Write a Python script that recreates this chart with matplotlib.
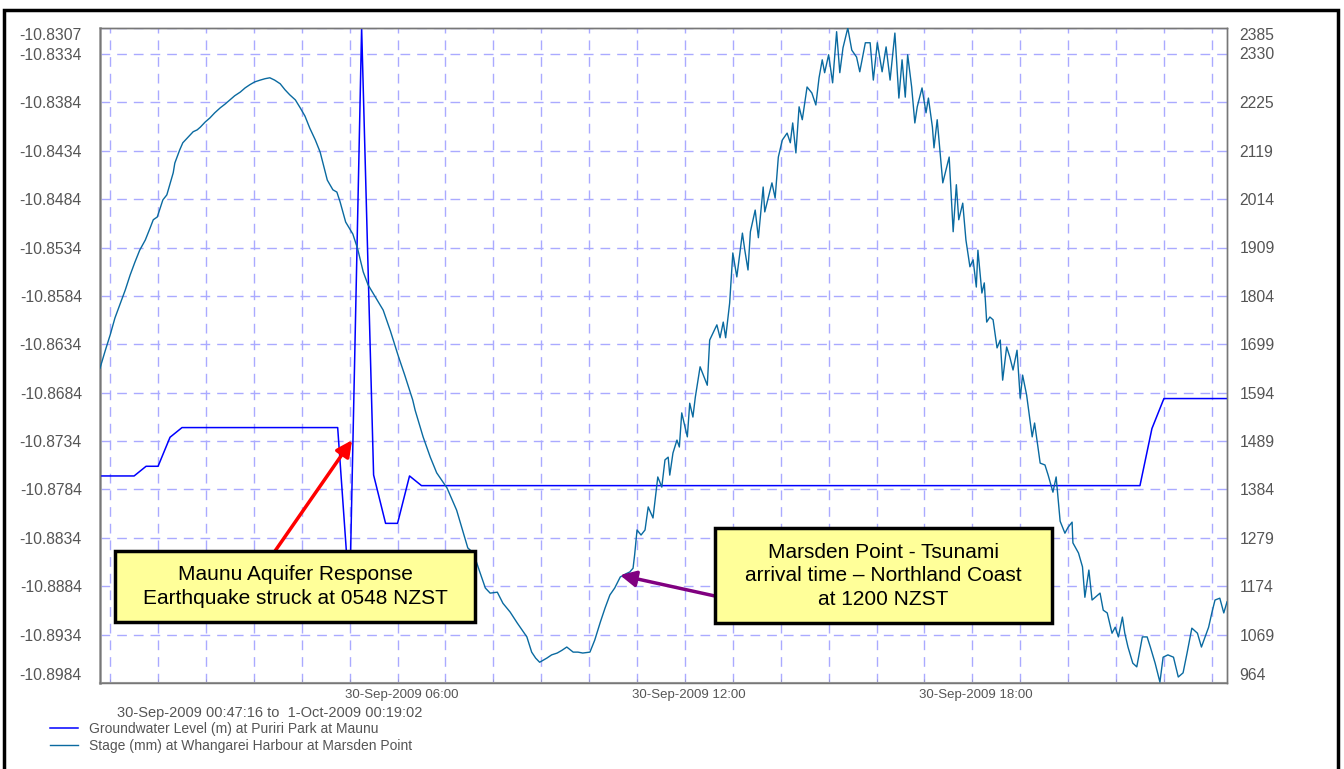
import matplotlib
matplotlib.use('Agg')
import matplotlib.pyplot as plt
import matplotlib.transforms as mtransforms
from matplotlib.patches import Rectangle
from matplotlib.ticker import FixedLocator, MultipleLocator

plt.rcParams['font.family'] = ['Liberation Sans', 'DejaVu Sans']

# tiempos en minutos desde 30-Sep-2009 00:00 (NZST)
gw_min = [47.27, 90, 105, 120, 135, 150, 345, 360, 375, 390, 405, 420, 435, 450,
          1350, 1365, 1380, 1459.03]
gw_level = [-10.8770, -10.8770, -10.8760, -10.8760, -10.8730, -10.8720, -10.8720, -10.8896,
            -10.8307, -10.8769, -10.8819, -10.8819, -10.8770, -10.8780, -10.8780, -10.8721,
            -10.8690, -10.8690]

stage_min = [47.27, 54, 60, 66, 72, 79, 85, 91, 97, 104, 110, 114, 119, 126, 131, 139, 141, 147,
             151, 158, 164, 169, 173, 179, 185, 191, 198, 204, 210, 216, 223, 229, 235, 241, 248,
             254, 260, 266, 273, 279, 285, 292, 298, 304, 310, 317, 323, 332, 339, 344, 348, 355,
             364, 370, 377, 383, 392, 402, 411, 421, 429, 439, 442, 452, 461, 469, 482, 494, 502,
             508, 515, 523, 530, 536, 545, 552, 561, 570, 576, 582, 588, 593, 598, 603, 607, 613,
             620, 626, 632, 640, 646, 652, 661, 667, 674, 680, 686, 692, 699, 705, 711, 715, 717,
             720, 725, 730, 734, 740, 746, 751, 755, 759, 761, 765, 770, 773, 776, 783, 786, 790,
             793, 799, 808, 811, 820, 824, 828, 831, 836, 840, 845, 852, 855, 859, 862, 868, 872,
             878, 880, 889, 893, 897, 902, 908, 912, 915, 919, 923, 927, 933, 939, 944, 948, 952,
             955, 960, 965, 970, 974, 978, 984, 989, 995, 999, 1006, 1012, 1016, 1021, 1027, 1032,
             1037, 1043, 1048, 1052, 1056, 1059, 1064, 1068, 1071, 1077, 1082, 1085, 1090, 1092,
             1096, 1103, 1111, 1116, 1120, 1123, 1128, 1132, 1137, 1141, 1145, 1147, 1152, 1155,
             1158, 1162, 1166, 1171, 1175, 1178, 1183, 1187, 1191, 1196, 1200, 1203, 1208, 1215,
             1218, 1225, 1231, 1235, 1241, 1245, 1250, 1256, 1260, 1265, 1266, 1273, 1278, 1281,
             1286, 1290, 1294, 1300, 1304, 1309, 1315, 1319, 1323, 1328, 1331, 1335, 1341, 1346,
             1353, 1359, 1363, 1369, 1375, 1379, 1385, 1392, 1398, 1404, 1409, 1415, 1422, 1427,
             1436, 1440, 1444, 1450, 1455, 1459.03]
stage_mm = [1647, 1686, 1719, 1756, 1784, 1817, 1849, 1877, 1903, 1925, 1951, 1969, 1975, 2012,
            2023, 2071, 2092, 2120, 2136, 2149, 2160, 2164, 2170, 2181, 2190, 2201, 2212, 2220,
            2229, 2238, 2246, 2255, 2262, 2268, 2272, 2275, 2277, 2272, 2264, 2251, 2240, 2229,
            2212, 2194, 2168, 2142, 2116, 2055, 2034, 2029, 2008, 1964, 1938, 1906, 1856, 1828,
            1802, 1773, 1728, 1673, 1632, 1578, 1556, 1498, 1454, 1420, 1387, 1339, 1292, 1257,
            1246, 1205, 1170, 1159, 1161, 1137, 1118, 1094, 1079, 1064, 1031, 1018, 1009, 1014,
            1018, 1025, 1029, 1035, 1042, 1031, 1031, 1029, 1031, 1057, 1096, 1127, 1155, 1170,
            1194, 1200, 1205, 1213, 1242, 1296, 1285, 1296, 1346, 1322, 1411, 1389, 1448, 1454,
            1415, 1463, 1491, 1476, 1550, 1498, 1571, 1541, 1584, 1650, 1610, 1708, 1741, 1713,
            1747, 1713, 1788, 1897, 1845, 1940, 1903, 1860, 1943, 1990, 1930, 2040, 1986, 2049,
            2016, 2105, 2142, 2157, 2136, 2179, 2114, 2214, 2186, 2257, 2244, 2218, 2277, 2316,
            2288, 2327, 2266, 2377, 2288, 2342, 2385, 2337, 2322, 2290, 2353, 2353, 2272, 2353,
            2290, 2344, 2272, 2374, 2233, 2316, 2235, 2327, 2257, 2179, 2214, 2255, 2201, 2233,
            2170, 2125, 2186, 2049, 2105, 1943, 2045, 1969, 2005, 1925, 1867, 1882, 1823, 1903,
            1810, 1832, 1747, 1758, 1752, 1691, 1708, 1621, 1693, 1671, 1643, 1686, 1582, 1632,
            1589, 1498, 1528, 1441, 1437, 1415, 1378, 1411, 1315, 1289, 1302, 1313, 1268, 1246,
            1216, 1150, 1209, 1144, 1150, 1159, 1122, 1116, 1072, 1085, 1064, 1107, 1072, 1042,
            1007, 999, 1064, 1064, 1042, 1007, 966, 1020, 1025, 1020, 977, 986, 1029, 1083, 1072,
            1042, 1085, 1116, 1144, 1148, 1116, 1140]

gw_ticks = [-10.8984, -10.8934, -10.8884, -10.8834, -10.8784, -10.8734, -10.8684, -10.8634,
            -10.8584, -10.8534, -10.8484, -10.8434, -10.8384, -10.8334, -10.8307]
stage_ticks = [964, 1069, 1174, 1279, 1384, 1489, 1594, 1699, 1804, 1909, 2014, 2119, 2225,
               2330, 2385]
xtick_hours = [6, 12, 18]
xtick_labels = ['30-Sep-2009 06:00', '30-Sep-2009 12:00', '30-Sep-2009 18:00']
periodo = '30-Sep-2009 00:47:16 to  1-Oct-2009 00:19:02'
label_gw = 'Groundwater Level (m) at Puriri Park at Maunu'
label_stage = 'Stage (mm) at Whangarei Harbour at Marsden Point'
texto_sismo = 'Maunu Aquifer Response\nEarthquake struck at 0548 NZST'
texto_tsunami = 'Marsden Point - Tsunami\narrival time \u2013 Northland Coast\nat 1200 NZST'

gris = '#555555'
W, H = 1344, 769

fig = plt.figure(figsize=(W / 100, H / 100), dpi=100)
ax = fig.add_axes([100 / W, 86 / H, 1127 / W, 655 / H])
ax2 = ax.twinx()

# series
l_gw, = ax.plot([m / 60 for m in gw_min], gw_level, color='#0000ff', lw=1.1, zorder=3)
l_st, = ax2.plot([m / 60 for m in stage_min], stage_mm, color='#0a6aa0', lw=1.0, zorder=3)

ax.set_xlim(gw_min[0] / 60, gw_min[-1] / 60)
ax.set_ylim(gw_ticks[0], gw_ticks[-1])
ax2.set_ylim(stage_ticks[0], stage_ticks[-1])

# ejes / grilla
ax.xaxis.set_major_locator(FixedLocator(xtick_hours))
ax.set_xticklabels(xtick_labels)
ax.xaxis.set_minor_locator(MultipleLocator(1))
ax.set_yticks(gw_ticks)
ax.set_yticklabels([f'{v:.4f}' for v in gw_ticks])
ax2.set_yticks(stage_ticks)
ax2.set_yticklabels([str(v) for v in stage_ticks])

grid_kw = dict(color='#aaaaff', lw=1.0, linestyle=(0, (7, 5)))
ax.grid(True, which='both', axis='x', **grid_kw)
ax.grid(True, which='major', axis='y', **grid_kw)
ax.set_axisbelow(True)

ax.tick_params(axis='y', length=0, pad=13, labelsize=11.3, labelcolor=gris)
ax2.tick_params(axis='y', length=0, pad=9, labelsize=11.3, labelcolor=gris)
ax.tick_params(axis='x', which='both', direction='in', length=3, color='#9999cc',
               pad=4, labelsize=9.5, labelcolor=gris)

# etiquetas extremas dentro del rango
for a in (ax, ax2):
    t = a.yaxis.get_major_ticks()
    t[0].label1.set_va('bottom'); t[0].label2.set_va('bottom')
    t[-1].label1.set_va('top'); t[-1].label2.set_va('top')

desplazar = mtransforms.ScaledTranslation(-5 / 100, 0, fig.dpi_scale_trans)
for lab in ax.get_xticklabels():
    lab.set_ha('left')
    lab.set_transform(lab.get_transform() + desplazar)

for a in (ax, ax2):
    for s in a.spines.values():
        s.set_color('#777777')
        s.set_linewidth(1.0)
ax.spines['left'].set_color('#aaaaaa')
ax.spines['left'].set_linewidth(2.0)
ax.spines['bottom'].set_color('#999999')
ax.spines['bottom'].set_linewidth(1.5)

# cuadros de anotacion
caja = dict(transform=ax2.transAxes, facecolor='#ffff99', edgecolor='black', lw=2.5, zorder=10)
ax2.add_patch(Rectangle((0.0133, 0.0931), 0.3194, 0.1084, **caja))
ax2.add_patch(Rectangle((0.5457, 0.0916), 0.2990, 0.1450, **caja))
ax2.text(0.173, 0.1473, texto_sismo, transform=ax2.transAxes, ha='center', va='center',
         fontsize=15, linespacing=1.3, color='black', zorder=11)
ax2.text(0.6952, 0.1641, texto_tsunami, transform=ax2.transAxes, ha='center', va='center',
         fontsize=15, linespacing=1.3, color='black', zorder=11)

ax2.annotate('', xy=(6.05, -10.8733), xycoords=ax.transData,
             xytext=(0.1553, 0.2015), textcoords='axes fraction',
             arrowprops=dict(arrowstyle='-|>', color='red', lw=2.5, mutation_scale=24,
                             shrinkA=0, shrinkB=0), zorder=9)
ax2.annotate('', xy=(698.6 / 60, 1198), xycoords='data',
             xytext=(0.5457, 0.1328), textcoords='axes fraction',
             arrowprops=dict(arrowstyle='-|>', color='#800080', lw=2.5, mutation_scale=24,
                             shrinkA=0, shrinkB=0), zorder=9)

# leyenda y periodo
fig.text(117 / W, 1 - 713 / H, periodo, ha='left', va='center', fontsize=10.5, color=gris)
fig.legend(handles=[l_gw, l_st], labels=[label_gw, label_stage], loc='upper left',
           bbox_to_anchor=(50 / W, 1 - 722 / H), frameon=False, fontsize=10,
           handlelength=2.0, handletextpad=0.8, labelspacing=0.2, borderpad=0,
           borderaxespad=0, labelcolor=gris)

# marco exterior
fig.add_artist(Rectangle((4 / W, -0.05), 1334 / W, 1 - 10 / H + 0.05,
                         transform=fig.transFigure, fill=False, ec='black', lw=2.5))

fig.savefig('out.png', dpi=100)
